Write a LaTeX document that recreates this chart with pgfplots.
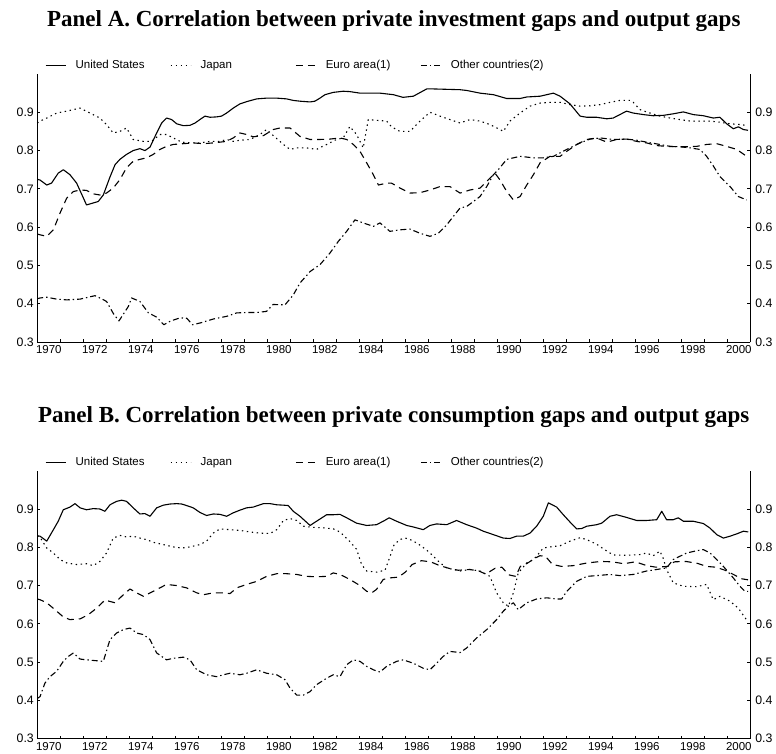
\documentclass[border=0pt]{standalone}
\usepackage{pgfplots}
\pgfplotsset{compat=1.18}
\usepackage{fontspec}
\setmainfont{Liberation Sans}
\newfontfamily\titlefont{Liberation Serif}
\newcommand\smallf{\fontsize{11.5}{13}\selectfont}
\newcommand\yf{\fontsize{12.3}{13}\selectfont}
\newcommand\ttlf{\titlefont\bfseries\fontsize{23}{27}\selectfont}
\pgfplotsset{
  us/.style={black, line width=1.1pt, solid, line join=round},
  jp/.style={black, line width=1.1pt, dash pattern=on 1.4pt off 3.6pt, line join=round},
  eu/.style={black, line width=1.1pt, dash pattern=on 7pt off 5pt, line join=round},
  ot/.style={black, line width=1.1pt, dash pattern=on 6pt off 3pt on 1.4pt off 3pt, line join=round},
  panel/.style={
    scale only axis, width=713pt, height=268pt,
    xmin=1970, xmax=2001, ymin=0.3, ymax=1.0,
    axis x line*=bottom, axis y line*=left,
    axis line style={black, line width=0.9pt},
    tick align=inside, major tick length=3pt, minor tick length=3pt,
    tick style={black, line width=0.8pt},
    major x tick style={draw=none},
    xtick={1970.5,1972.5,...,2000.5},
    xticklabels={1970,1972,1974,1976,1978,1980,1982,1984,1986,1988,1990,1992,1994,1996,1998,2000},
    minor xtick={1971,1972,...,2000},
    ytick={0.3,0.4,0.5,0.6,0.7,0.8,0.9},
    yticklabels={0.3,0.4,0.5,0.6,0.7,0.8,0.9},
    xticklabel style={font=\smallf},
    yticklabel style={font=\yf},
    clip=false,
    every axis title/.style={at={(0.5,1)}, anchor=base, yshift=48pt, font=\ttlf},
    legend style={draw=none, fill=none, at={(0,1)}, anchor=west, xshift=7.7pt, yshift=8.5pt,
      legend columns=4, column sep=0pt, inner sep=0pt, outer sep=0pt,
      nodes={inner sep=0pt, font=\smallf}},
    legend image code/.code={\draw[#1] (0pt,0pt) -- (20pt,0pt);},
  },
  rightpanel/.style={
    scale only axis, width=713pt, height=268pt,
    xmin=1970, xmax=2001, ymin=0.3, ymax=1.0,
    axis y line*=right, axis x line=none,
    axis line style={black, line width=0.9pt},
    tick align=inside, major tick length=3pt,
    tick style={black, line width=0.8pt},
    ytick={0.3,0.4,0.5,0.6,0.7,0.8,0.9},
    yticklabels={0.3,0.4,0.5,0.6,0.7,0.8,0.9},
    yticklabel style={font=\yf, xshift=1.5pt},
  },
}
\newcommand\lb[1]{\makebox[104pt][l]{\hspace{9.5pt}#1}}
\begin{document}
\begin{tikzpicture}
\useasboundingbox (-37.3pt,-412pt) rectangle (738.7pt,342pt);
% ---------------- Panel A ----------------
\begin{axis}[panel, at={(0pt,0pt)}, anchor=south west,
  title={Panel A. Correlation between private investment gaps and output gaps}]
\addplot[us] coordinates {(1970.0,0.725)(1970.12,0.723)(1970.41,0.710)(1970.62,0.715)(1970.91,0.741)(1971.13,0.750)(1971.42,0.737)(1971.71,0.715)(1972.14,0.658)(1972.65,0.667)(1972.87,0.684)(1973.16,0.731)(1973.38,0.763)(1973.59,0.777)(1973.88,0.790)(1974.17,0.800)(1974.46,0.805)(1974.68,0.800)(1974.90,0.809)(1975.19,0.846)(1975.41,0.872)(1975.62,0.885)(1975.84,0.881)(1976.06,0.870)(1976.35,0.865)(1976.64,0.866)(1976.86,0.872)(1977.07,0.881)(1977.29,0.890)(1977.51,0.887)(1977.80,0.888)(1978.01,0.890)(1978.23,0.898)(1978.52,0.911)(1978.81,0.922)(1979.17,0.929)(1979.54,0.935)(1979.97,0.937)(1980.41,0.937)(1980.84,0.935)(1981.13,0.931)(1981.42,0.929)(1981.86,0.927)(1982.07,0.929)(1982.29,0.937)(1982.51,0.946)(1982.87,0.952)(1983.30,0.955)(1983.59,0.954)(1984.03,0.950)(1984.46,0.950)(1984.90,0.950)(1985.48,0.946)(1985.90,0.939)(1986.35,0.942)(1986.93,0.961)(1987.22,0.961)(1987.80,0.960)(1988.38,0.959)(1988.67,0.957)(1989.25,0.950)(1989.83,0.946)(1990.41,0.936)(1990.99,0.936)(1991.28,0.940)(1991.86,0.942)(1992.15,0.946)(1992.44,0.950)(1992.73,0.942)(1993.16,0.922)(1993.60,0.890)(1993.89,0.887)(1994.32,0.887)(1994.76,0.883)(1995.04,0.885)(1995.33,0.894)(1995.62,0.903)(1995.91,0.898)(1996.35,0.894)(1996.78,0.891)(1997.22,0.892)(1997.65,0.896)(1998.09,0.901)(1998.52,0.894)(1998.96,0.891)(1999.39,0.885)(1999.68,0.887)(1999.97,0.870)(2000.26,0.857)(2000.48,0.862)(2000.70,0.855)(2000.90,0.853)};
\addlegendentry{\lb{United States}}
\addplot[jp] coordinates {(1970.0,0.872)(1970.12,0.877)(1970.41,0.885)(1970.84,0.898)(1971.28,0.903)(1971.86,0.911)(1972.29,0.898)(1972.72,0.885)(1973.01,0.868)(1973.30,0.846)(1973.59,0.850)(1973.88,0.859)(1974.17,0.829)(1974.61,0.824)(1974.97,0.824)(1975.33,0.842)(1975.62,0.842)(1975.91,0.833)(1976.28,0.822)(1976.64,0.820)(1977.07,0.820)(1977.51,0.824)(1977.94,0.824)(1978.23,0.829)(1978.52,0.824)(1978.81,0.827)(1979.25,0.829)(1979.68,0.842)(1979.97,0.855)(1980.26,0.839)(1980.70,0.816)(1980.99,0.803)(1981.28,0.807)(1981.71,0.807)(1982.14,0.803)(1982.58,0.816)(1983.01,0.829)(1983.30,0.833)(1983.59,0.863)(1983.88,0.842)(1984.17,0.807)(1984.39,0.881)(1984.75,0.879)(1985.19,0.877)(1985.40,0.862)(1985.77,0.850)(1986.20,0.850)(1986.64,0.877)(1987.07,0.900)(1987.51,0.890)(1987.94,0.881)(1988.38,0.872)(1988.81,0.881)(1989.25,0.877)(1989.68,0.868)(1990.12,0.855)(1990.26,0.850)(1990.55,0.877)(1990.99,0.898)(1991.42,0.916)(1991.86,0.924)(1992.29,0.926)(1992.73,0.926)(1993.16,0.920)(1993.60,0.916)(1994.03,0.917)(1994.47,0.920)(1994.90,0.926)(1995.33,0.931)(1995.77,0.931)(1995.91,0.926)(1996.20,0.907)(1996.64,0.898)(1997.07,0.890)(1997.51,0.885)(1997.94,0.881)(1998.38,0.877)(1998.81,0.877)(1999.25,0.877)(1999.68,0.874)(2000.12,0.870)(2000.55,0.868)(2000.90,0.865)};
\addlegendentry{\lb{Japan}}
\addplot[eu] coordinates {(1970.0,0.582)(1970.12,0.580)(1970.41,0.576)(1970.70,0.593)(1970.99,0.637)(1971.28,0.676)(1971.57,0.693)(1971.86,0.697)(1972.14,0.696)(1972.43,0.687)(1972.72,0.684)(1973.01,0.689)(1973.30,0.702)(1973.59,0.724)(1973.88,0.755)(1974.17,0.772)(1974.46,0.777)(1974.75,0.781)(1975.04,0.790)(1975.33,0.803)(1975.62,0.811)(1975.91,0.816)(1976.35,0.818)(1976.78,0.820)(1977.22,0.818)(1977.65,0.820)(1978.23,0.824)(1978.52,0.833)(1978.81,0.846)(1979.10,0.842)(1979.39,0.836)(1979.83,0.839)(1980.26,0.855)(1980.55,0.859)(1980.99,0.859)(1981.42,0.837)(1981.86,0.829)(1982.29,0.829)(1982.72,0.830)(1983.16,0.833)(1983.45,0.829)(1983.74,0.816)(1984.03,0.798)(1984.32,0.768)(1984.61,0.737)(1984.83,0.710)(1985.19,0.715)(1985.40,0.715)(1985.77,0.702)(1986.20,0.689)(1986.64,0.690)(1987.07,0.697)(1987.51,0.706)(1987.94,0.706)(1988.38,0.689)(1988.81,0.697)(1989.25,0.702)(1989.68,0.728)(1989.90,0.741)(1990.12,0.723)(1990.41,0.693)(1990.70,0.671)(1990.99,0.680)(1991.28,0.710)(1991.57,0.737)(1991.86,0.768)(1992.29,0.785)(1992.73,0.785)(1993.02,0.798)(1993.45,0.816)(1993.89,0.829)(1994.32,0.833)(1994.76,0.822)(1995.19,0.829)(1995.62,0.830)(1996.06,0.824)(1996.49,0.820)(1996.93,0.813)(1997.36,0.811)(1997.80,0.810)(1998.23,0.810)(1998.67,0.811)(1999.10,0.816)(1999.54,0.818)(1999.97,0.811)(2000.41,0.803)(2000.84,0.785)};
\addlegendentry{\lb{Euro area(1)}}
\addplot[ot] coordinates {(1970.0,0.413)(1970.12,0.415)(1970.41,0.417)(1970.84,0.412)(1971.28,0.410)(1971.86,0.412)(1972.51,0.421)(1972.72,0.415)(1973.01,0.406)(1973.30,0.375)(1973.55,0.355)(1973.96,0.393)(1974.10,0.415)(1974.46,0.406)(1974.83,0.376)(1975.19,0.365)(1975.50,0.345)(1975.80,0.355)(1976.20,0.363)(1976.50,0.362)(1976.75,0.345)(1977.10,0.350)(1977.65,0.360)(1978.23,0.367)(1978.67,0.376)(1979.10,0.377)(1979.54,0.377)(1979.97,0.380)(1980.25,0.398)(1980.77,0.397)(1981.13,0.423)(1981.42,0.454)(1981.86,0.484)(1982.29,0.502)(1982.72,0.532)(1983.09,0.563)(1983.45,0.589)(1983.81,0.619)(1984.17,0.611)(1984.61,0.602)(1984.90,0.611)(1985.33,0.589)(1985.77,0.593)(1986.20,0.595)(1986.64,0.584)(1987.07,0.576)(1987.44,0.584)(1987.80,0.606)(1988.09,0.628)(1988.38,0.650)(1988.67,0.654)(1988.96,0.667)(1989.25,0.680)(1989.54,0.706)(1989.83,0.737)(1990.04,0.750)(1990.41,0.777)(1990.99,0.785)(1991.57,0.781)(1992.00,0.781)(1992.44,0.785)(1993.02,0.803)(1993.60,0.820)(1994.03,0.830)(1994.47,0.833)(1995.04,0.829)(1995.62,0.830)(1996.06,0.827)(1996.49,0.822)(1997.07,0.816)(1997.51,0.811)(1997.94,0.810)(1998.38,0.807)(1998.81,0.803)(1999.10,0.785)(1999.39,0.760)(1999.68,0.732)(2000.12,0.706)(2000.48,0.680)(2000.84,0.671)};
\addlegendentry{\lb{Other countries(2)}}
\end{axis}
\begin{axis}[rightpanel, at={(0pt,0pt)}, anchor=south west]
\end{axis}
% ---------------- Panel B ----------------
\begin{axis}[panel, at={(0pt,-396.7pt)}, anchor=south west,
  title={Panel B. Correlation between private consumption gaps and output gaps}]
\addplot[us] coordinates {(1970.0,0.830)(1970.12,0.829)(1970.41,0.816)(1970.70,0.846)(1970.91,0.868)(1971.13,0.898)(1971.42,0.905)(1971.64,0.914)(1971.86,0.903)(1972.14,0.898)(1972.43,0.901)(1972.72,0.900)(1972.94,0.894)(1973.16,0.911)(1973.45,0.920)(1973.67,0.923)(1973.88,0.920)(1974.17,0.903)(1974.46,0.887)(1974.68,0.888)(1974.90,0.881)(1975.19,0.903)(1975.48,0.910)(1975.77,0.913)(1976.06,0.914)(1976.28,0.913)(1976.49,0.909)(1976.78,0.903)(1977.07,0.891)(1977.36,0.883)(1977.65,0.887)(1977.94,0.886)(1978.23,0.881)(1978.52,0.890)(1978.81,0.897)(1979.10,0.903)(1979.39,0.905)(1979.83,0.914)(1980.12,0.914)(1980.41,0.911)(1980.70,0.910)(1980.91,0.909)(1981.13,0.894)(1981.42,0.881)(1981.86,0.857)(1982.14,0.868)(1982.58,0.885)(1982.87,0.885)(1983.16,0.886)(1983.45,0.877)(1983.88,0.863)(1984.32,0.857)(1984.75,0.859)(1985.10,0.870)(1985.30,0.877)(1985.62,0.868)(1986.06,0.857)(1986.35,0.853)(1986.78,0.846)(1987.07,0.857)(1987.36,0.861)(1987.80,0.859)(1988.23,0.870)(1988.67,0.859)(1989.10,0.850)(1989.39,0.842)(1989.83,0.833)(1990.26,0.824)(1990.55,0.823)(1990.84,0.829)(1991.13,0.829)(1991.42,0.837)(1991.71,0.855)(1992.00,0.881)(1992.22,0.916)(1992.58,0.905)(1992.87,0.885)(1993.16,0.866)(1993.45,0.848)(1993.67,0.849)(1993.89,0.855)(1994.32,0.859)(1994.54,0.863)(1994.90,0.881)(1995.19,0.885)(1995.62,0.878)(1996.06,0.870)(1996.49,0.870)(1996.93,0.872)(1997.15,0.894)(1997.36,0.872)(1997.65,0.872)(1997.87,0.877)(1998.09,0.868)(1998.52,0.868)(1998.96,0.862)(1999.25,0.850)(1999.54,0.833)(1999.83,0.824)(2000.12,0.829)(2000.41,0.835)(2000.70,0.842)(2000.91,0.840)};
\addlegendentry{\lb{United States}}
\addplot[jp] coordinates {(1970.0,0.830)(1970.12,0.826)(1970.41,0.798)(1970.70,0.785)(1970.99,0.768)(1971.28,0.759)(1971.71,0.755)(1972.14,0.757)(1972.43,0.752)(1972.72,0.763)(1973.01,0.785)(1973.30,0.824)(1973.59,0.831)(1973.88,0.827)(1974.17,0.829)(1974.46,0.824)(1974.75,0.820)(1975.04,0.813)(1975.48,0.807)(1975.91,0.801)(1976.28,0.798)(1976.64,0.801)(1977.07,0.807)(1977.36,0.816)(1977.65,0.837)(1977.94,0.848)(1978.38,0.846)(1978.81,0.844)(1979.25,0.840)(1979.68,0.837)(1980.12,0.836)(1980.41,0.846)(1980.70,0.870)(1980.99,0.875)(1981.28,0.870)(1981.57,0.855)(1982.00,0.852)(1982.43,0.851)(1982.87,0.848)(1983.16,0.840)(1983.59,0.815)(1983.88,0.795)(1984.10,0.755)(1984.32,0.738)(1984.75,0.735)(1985.12,0.740)(1985.33,0.775)(1985.50,0.805)(1985.75,0.820)(1986.00,0.824)(1986.30,0.818)(1986.60,0.807)(1986.90,0.794)(1987.20,0.778)(1987.50,0.760)(1987.80,0.746)(1988.38,0.738)(1988.81,0.742)(1989.25,0.738)(1989.68,0.724)(1989.97,0.681)(1990.26,0.655)(1990.48,0.646)(1990.70,0.681)(1990.91,0.733)(1991.28,0.759)(1991.57,0.768)(1991.71,0.777)(1992.00,0.798)(1992.29,0.801)(1992.73,0.804)(1993.16,0.816)(1993.60,0.825)(1993.89,0.820)(1994.32,0.808)(1994.76,0.790)(1995.04,0.780)(1995.62,0.779)(1996.20,0.781)(1996.49,0.785)(1996.78,0.778)(1997.07,0.790)(1997.22,0.770)(1997.36,0.742)(1997.65,0.707)(1998.09,0.698)(1998.67,0.697)(1999.10,0.703)(1999.39,0.663)(1999.68,0.672)(2000.12,0.659)(2000.48,0.641)(2000.90,0.605)};
\addlegendentry{\lb{Japan}}
\addplot[eu] coordinates {(1970.0,0.665)(1970.12,0.663)(1970.41,0.655)(1970.77,0.637)(1971.13,0.618)(1971.42,0.611)(1971.86,0.613)(1972.22,0.624)(1972.58,0.641)(1972.94,0.662)(1973.38,0.655)(1973.67,0.672)(1974.03,0.691)(1974.32,0.681)(1974.61,0.672)(1975.04,0.685)(1975.33,0.694)(1975.62,0.703)(1976.06,0.700)(1976.49,0.694)(1976.93,0.681)(1977.22,0.676)(1977.65,0.681)(1978.09,0.681)(1978.38,0.679)(1978.67,0.694)(1979.10,0.703)(1979.54,0.711)(1979.97,0.724)(1980.41,0.731)(1980.84,0.731)(1981.28,0.729)(1981.71,0.724)(1982.14,0.723)(1982.58,0.724)(1982.87,0.733)(1983.16,0.729)(1983.59,0.716)(1984.03,0.700)(1984.32,0.685)(1984.54,0.681)(1984.75,0.690)(1985.04,0.716)(1985.33,0.720)(1985.70,0.722)(1986.00,0.735)(1986.30,0.755)(1986.70,0.765)(1987.10,0.762)(1987.50,0.752)(1987.90,0.745)(1988.30,0.740)(1988.80,0.742)(1989.20,0.738)(1989.50,0.730)(1989.90,0.745)(1990.20,0.748)(1990.50,0.728)(1990.80,0.724)(1991.00,0.750)(1991.30,0.758)(1991.60,0.770)(1991.85,0.778)(1992.10,0.776)(1992.40,0.755)(1992.80,0.750)(1993.30,0.752)(1993.90,0.759)(1994.50,0.763)(1995.00,0.762)(1995.50,0.757)(1996.00,0.762)(1996.50,0.752)(1996.90,0.748)(1997.40,0.750)(1997.70,0.762)(1998.20,0.763)(1998.70,0.758)(1999.10,0.750)(1999.50,0.748)(1999.90,0.740)(2000.30,0.728)(2000.60,0.718)(2000.90,0.715)};
\addlegendentry{\lb{Euro area(1)}}
\addplot[ot] coordinates {(1970.0,0.405)(1970.12,0.410)(1970.33,0.445)(1970.55,0.462)(1970.84,0.476)(1971.13,0.502)(1971.35,0.515)(1971.57,0.524)(1971.86,0.508)(1972.14,0.506)(1972.51,0.504)(1972.87,0.502)(1973.16,0.559)(1973.45,0.576)(1973.74,0.585)(1974.03,0.589)(1974.32,0.576)(1974.61,0.572)(1974.90,0.559)(1975.19,0.524)(1975.62,0.506)(1975.91,0.510)(1976.35,0.513)(1976.64,0.506)(1976.93,0.480)(1977.36,0.467)(1977.80,0.462)(1978.09,0.467)(1978.38,0.471)(1978.81,0.467)(1979.10,0.471)(1979.54,0.480)(1979.97,0.471)(1980.41,0.467)(1980.77,0.454)(1980.99,0.432)(1981.28,0.414)(1981.57,0.414)(1981.86,0.423)(1982.14,0.441)(1982.58,0.458)(1982.87,0.467)(1983.16,0.462)(1983.45,0.493)(1983.74,0.506)(1984.03,0.502)(1984.32,0.489)(1984.61,0.480)(1984.90,0.474)(1985.19,0.489)(1985.62,0.502)(1985.91,0.506)(1986.35,0.497)(1986.78,0.484)(1987.07,0.480)(1987.36,0.497)(1987.65,0.515)(1987.94,0.528)(1988.38,0.525)(1988.67,0.537)(1989.10,0.563)(1989.54,0.585)(1989.97,0.611)(1990.26,0.633)(1990.48,0.646)(1990.70,0.655)(1990.91,0.637)(1991.28,0.655)(1991.71,0.665)(1992.15,0.668)(1992.58,0.665)(1992.80,0.665)(1993.02,0.685)(1993.45,0.711)(1993.89,0.724)(1994.32,0.726)(1994.90,0.729)(1995.33,0.726)(1995.91,0.729)(1996.49,0.738)(1996.93,0.742)(1997.36,0.746)(1997.65,0.768)(1998.23,0.785)(1998.67,0.791)(1998.96,0.794)(1999.25,0.785)(1999.54,0.768)(1999.83,0.750)(2000.26,0.720)(2000.55,0.698)(2000.77,0.685)(2000.91,0.685)};
\addlegendentry{\lb{Other countries(2)}}
\end{axis}
\begin{axis}[rightpanel, at={(0pt,-396.7pt)}, anchor=south west]
\end{axis}
\end{tikzpicture}
\end{document}
